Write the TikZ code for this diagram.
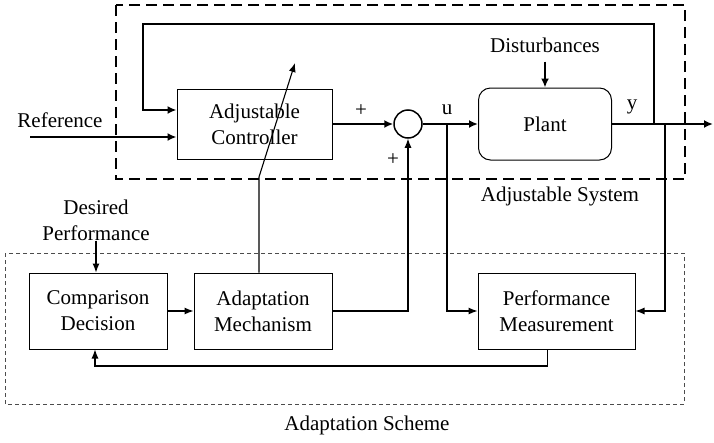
\documentclass[tikz,border=0pt]{standalone}
\usepackage{fontspec}
\setmainfont{Liberation Serif}
\usetikzlibrary{arrows.meta}

\tikzset{
    txt/.style={inner sep=0pt, align=center, font=\fontsize{21}{26}\selectfont},
    block/.style={txt, draw, line width=1pt},
    sumnode/.style={draw, circle, line width=1.5pt, minimum size=28pt, inner sep=0pt},
    sig/.style={line width=2.6pt, -{Latex[length=9pt,width=8pt]}},
    fine/.style={line width=1.1pt, -{Latex[length=9pt,width=7pt]}}
}

\begin{document}
\begin{tikzpicture}[x=1pt, y=-1pt]
    \useasboundingbox (0,0) rectangle (714,442);

    % Frames
    \draw[line width=2.6pt, dash pattern=on 11pt off 6pt] (116,5) rectangle (685,179);
    \draw[line width=0.8pt, black!70, dash pattern=on 4pt off 3pt] (5,253) rectangle (684,404);

    % Blocks
    \node[block, minimum width=155pt, minimum height=70pt] (ctrl) at (254.5,124) {Adjustable\\Controller};
    \node[sumnode] (sum) at (408,124) {};
    \node[block, rounded corners=12pt, minimum width=133pt, minimum height=72pt] (plant) at (545,124) {Plant};
    \node[block, minimum width=138pt, minimum height=76pt] (cmp) at (98,311) {Comparison\\Decision};
    \node[block, minimum width=138pt, minimum height=76pt] (adapt) at (263,311) {Adaptation\\Mechanism};
    \node[block, minimum width=157pt, minimum height=76pt] (perf) at (556.5,311) {Performance\\Measurement};

    % Labels
    \node[txt] (ref) at (60,120) {Reference};
    \node[txt] (dist) at (545,45) {Disturbances};
    \node[txt] (plusa) at (361,111) {+};
    \node[txt] (plusb) at (393,160) {+};
    \node[txt] (u) at (447,110) {u};
    \node[txt] (y) at (632,107) {y};
    \node[txt] (adjsys) at (560,196) {Adjustable System};
    \node[txt] (desired) at (96,220) {Desired\\Performance};
    \node[txt] (scheme) at (367,425) {Adaptation Scheme};

    % Points
    \coordinate (refin) at (30,137);
    \coordinate (ytap) at (654,124);
    \coordinate (fbtop) at (143,24);
    \coordinate (out) at (713,124);
    \coordinate (utap) at (447,124);
    \coordinate (ymeas) at (665,124);
    \coordinate (kink) at (259,177);
    \coordinate (tune) at (295,63);
    \coordinate (fbbot) at (95,366);

    % Adjustable system
    \draw[sig] (refin) -- (refin -| ctrl.west);
    \draw[sig] (ytap) |- (fbtop) |- ([yshift=14pt]ctrl.west);
    \draw[sig] (ctrl.east) -- (sum.west);
    \draw[sig] (sum.east) -- (plant.west);
    \draw[sig] (plant.east) -- (out);
    \draw[sig] ([yshift=-9pt]dist.south) -- (plant.north);

    % Adaptation scheme
    \draw[fine] (cmp.east) -- (adapt.west);
    \draw[fine] (adapt.east) -| (sum.south);
    \draw[fine] (desired.south) -- (desired.south |- cmp.north);
    \draw[fine] (utap) |- (perf.west);
    \draw[fine] (ymeas) |- (perf.east);
    \draw[fine] ([xshift=-9pt]perf.south) |- (fbbot) -- (fbbot |- cmp.south);
    \draw[fine] (kink |- adapt.north) -- (kink) -- (tune);
\end{tikzpicture}
\end{document}
